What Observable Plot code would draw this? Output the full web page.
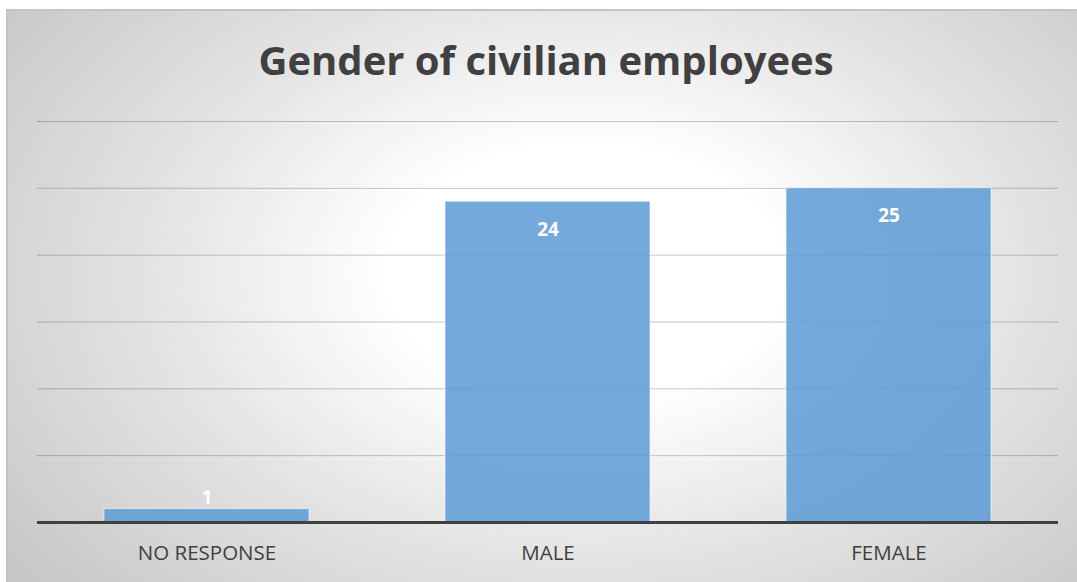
<!DOCTYPE html>
<html>
<head>
<meta charset="utf-8">
<script src="https://cdn.jsdelivr.net/npm/d3@7"></script>
<script src="https://cdn.jsdelivr.net/npm/@observablehq/plot@0.6"></script>
<style>
  html, body { margin: 0; padding: 0; background: #ffffff; width: 1077px; height: 582px; overflow: hidden; }
  #frame {
    position: absolute; left: 6px; top: 9px; width: 1071px; height: 573px;
    box-sizing: border-box;
    border-left: 2px solid #c4c4c4; border-top: 2px solid #c4c4c4;
    background: radial-gradient(ellipse 70% 86% at 54% 46%, #ffffff 0%, #ffffff 26%, #e2e2e2 60%, #c5c5c5 100%);
    font-family: "Open Sans", sans-serif;
  }
  #title {
    height: 98px; box-sizing: border-box; padding-top: 25px; padding-left: 7px;
    text-align: center; font-weight: bold; font-size: 40px; color: #404040;
    line-height: 48px;
  }
  #chart svg { display: block; background: transparent; }
</style>
</head>
<body>
<div id="frame">
  <div id="title">Gender of civilian employees</div>
  <div id="chart"></div>
</div>
<script>
const categories = ["NO RESPONSE", "MALE", "FEMALE"];
const values = [1, 24, 25];
const yTicks = [0, 5, 10, 15, 20, 25, 30];

const data = categories.map((c, i) => ({category: c, value: values[i]}));

const plot = Plot.plot({
  width: 1069,
  height: 473,
  marginLeft: 29,
  marginRight: 19,
  marginTop: 12,
  marginBottom: 60,
  style: {background: "transparent", fontFamily: "Open Sans, sans-serif", overflow: "visible"},
  x: {domain: categories, paddingInner: 0.4, paddingOuter: 0.196, label: null},
  y: {domain: [0, 30], label: null},
  marks: [
    Plot.ruleY(yTicks.filter(t => t > 0), {stroke: "#000", strokeOpacity: 0.22, strokeWidth: 1}),
    Plot.barY(data, {x: "category", y: "value", fill: "#5b9bd5", fillOpacity: 0.85, stroke: "#ffffff", strokeOpacity: 0.6, strokeWidth: 1}),
    Plot.ruleY([0], {stroke: "#404040", strokeWidth: 3}),
    Plot.text(data, {filter: d => d.value >= 3, x: "category", y: "value", text: d => String(d.value), fill: "#ffffff", fontWeight: "bold", fontSize: 19, dy: 28}),
    Plot.text(data, {filter: d => d.value < 3, x: "category", y: "value", text: d => String(d.value), fill: "#ffffff", fontWeight: "bold", fontSize: 19, dy: -11}),
    Plot.axisX({tickSize: 0, tickPadding: 23, fontSize: 20.5, color: "#404040", label: null}),
    Plot.axisY({ticks: [], label: null, tickSize: 0})
  ]
});
document.getElementById("chart").appendChild(plot);
</script>
</body>
</html>
